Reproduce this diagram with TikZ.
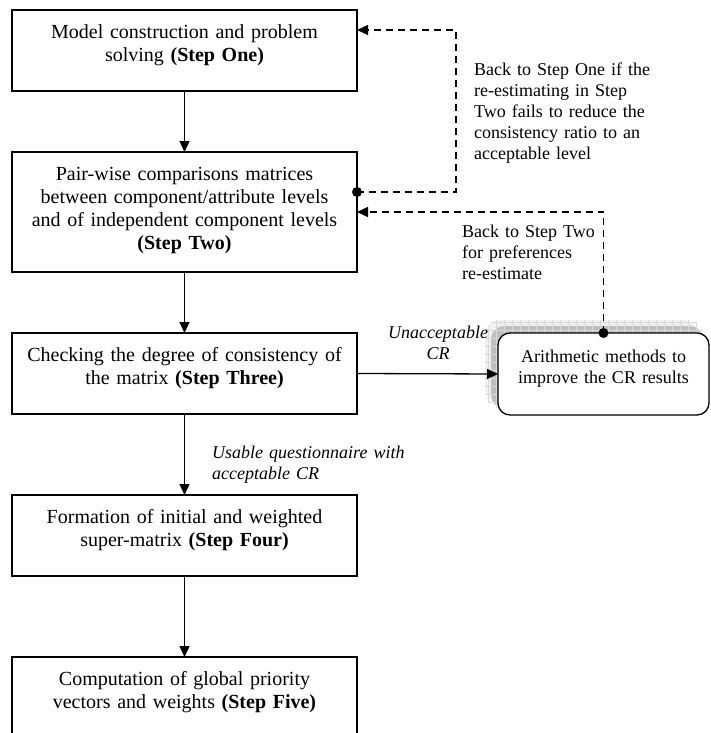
\documentclass[tikz,border=0pt]{standalone}
\usepackage{fontspec}
\setmainfont{Liberation Serif}
\usetikzlibrary{arrows.meta}
\begin{document}
\begin{tikzpicture}[x=1pt,y=-1pt,
  stepbox/.style={draw, line width=1.3pt, fill=white, anchor=north west,
    inner xsep=5pt, inner ysep=0pt, outer sep=0pt, text width=335pt,
    align=center, text height=28.5pt, font=\fontsize{20}{23}\selectfont},
  roundbox/.style={draw, line width=1.3pt, fill=white, rounded corners=12pt,
    anchor=north west, inner xsep=5pt, inner ysep=0pt, outer sep=0pt,
    text width=201pt, align=center, text height=29pt, text depth=53pt,
    font=\fontsize{18}{21}\selectfont},
  flow/.style={line width=1.3pt, -{Triangle[length=11pt,width=10pt]}},
  back/.style={flow, dash pattern=on 7pt off 5pt},
  note/.style={inner sep=0pt, anchor=base west, text width=200pt, align=left,
    font=\fontsize{18}{21}\selectfont},
  cond/.style={inner sep=0pt, font=\fontsize{18}{21}\selectfont\itshape},
  dot/.style={circle, fill, inner sep=0pt, minimum size=10pt}
]
\useasboundingbox (0,0) rectangle (711,733);

% main sequence of steps
\node[stepbox, text depth=52.5pt] (s1) at (12,10)
  {Model construction and problem\\solving \textbf{(Step One)}};
\node[stepbox, text depth=91.5pt] (s2) at (12,152)
  {Pair-wise comparisons matrices\\between component/attribute levels\\and of independent component levels\\\textbf{(Step Two)}};
\node[stepbox, text depth=52.5pt] (s3) at (12,333)
  {Checking the degree of consistency of\\the matrix \textbf{(Step Three)}};
\node[stepbox, text depth=52.5pt] (s4) at (12,495)
  {Formation of initial and weighted\\super-matrix \textbf{(Step Four)}};
\node[stepbox, text depth=90pt] (s5) at (12,657)
  {Computation of global priority\\vectors and weights \textbf{(Step Five)}};

% soft gridded shadow behind the correction box
\begin{scope}
  \fill[gray!12, rounded corners=14pt] (485,320) rectangle (697,402);
  \fill[gray!50, rounded corners=13pt] (491,326) rectangle (703,408);
  \clip[rounded corners=14pt] (485,320) rectangle (703,408);
  \foreach \gx in {488,496,...,704} \draw[gray!30, line width=0.4pt] (\gx,316) -- (\gx,412);
  \foreach \gy in {322,330,...,410} \draw[gray!30, line width=0.4pt] (482,\gy) -- (712,\gy);
\end{scope}
\node[roundbox] (arith) at (498,333)
  {Arithmetic methods to\\improve the CR results};

% forward flow
\draw[flow] (s1) -- (s2);
\draw[flow] (s2) -- (s3);
\draw[flow] (s3) -- (s4);
\draw[flow] (s4) -- (s5);
\draw[flow] (s3.east) -- (arith.west);

% feedback loops
\node[dot] (d1) at (s2.east |- 0,192) {};
\node[dot] (d2) at (arith.north) {};
\draw[back] (d1.center) -| (456,30) -- (s1.east |- 0,30);
\draw[back] (d2.center) |- (s2.east |- 0,212);

% labels
\node[cond, text width=110pt, align=center, anchor=base] (unacc) at (438,338)
  {Unacceptable\\CR};
\node[cond, text width=220pt, align=left, anchor=base west] (usable) at (212,458)
  {Usable questionnaire with\\acceptable CR};
\node[note] (n1) at (474,76)
  {Back to Step One if the\\re-estimating in Step\\Two fails to reduce the\\consistency ratio to an\\acceptable level};
\node[note] (n2) at (462,237)
  {Back to Step Two\\for preferences\\re-estimate};
\end{tikzpicture}
\end{document}
